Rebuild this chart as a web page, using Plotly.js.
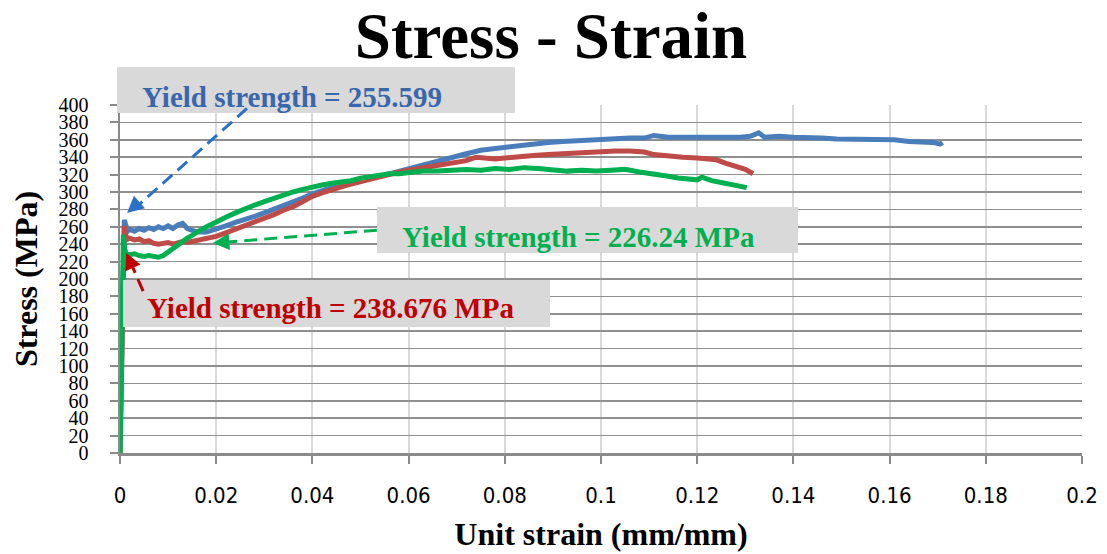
<!DOCTYPE html>
<html>
<head>
<meta charset="utf-8">
<script src="https://cdn.plot.ly/plotly-3.0.1.min.js"></script>
<style>html,body{margin:0;padding:0;background:#fff;}#chart{width:1107px;height:554px;}</style>
</head>
<body>
<div id="chart"></div>
<script>
// ---- data ----
const blueStrain = [0,0.0003,0.0005,0.0007,0.0009,0.0012,0.0016,0.002,0.003,0.004,0.005,0.006,0.007,0.008,0.009,0.010,0.011,0.012,0.013,0.014,0.016,0.018,0.020,0.022,0.024,0.026,0.028,0.030,0.032,0.034,0.036,0.038,0.040,0.042,0.044,0.046,0.048,0.050,0.052,0.054,0.056,0.058,0.060,0.062,0.065,0.068,0.070,0.072,0.075,0.078,0.080,0.083,0.086,0.089,0.092,0.095,0.098,0.100,0.103,0.106,0.109,0.111,0.114,0.117,0.120,0.123,0.126,0.129,0.131,0.1328,0.134,0.137,0.140,0.143,0.146,0.149,0.152,0.155,0.158,0.161,0.164,0.167,0.169,0.1705,0.171];
const blueStress = [0,90,180,240,268,262,255,257,255,258,256,259,257,260,258,261,258,262,264,258,254,254,257,261,265,268,272,276,280,284,289,293,298,302,305,308,311,313,316,318,321,324,326,329,334,338,341,344,348,350,352,354,356,357,358,359,359,360,361,362,362,365,363,363,362,363,363,363,364,368,363,364,363,363,362,361,361,360,360,360,358,358,357,355,357];

const redStrain = [0,0.0003,0.0005,0.0007,0.0009,0.0012,0.0016,0.002,0.003,0.004,0.005,0.006,0.007,0.008,0.009,0.010,0.011,0.012,0.013,0.014,0.015,0.016,0.018,0.020,0.022,0.024,0.026,0.028,0.030,0.032,0.034,0.036,0.038,0.040,0.042,0.044,0.046,0.048,0.050,0.052,0.054,0.056,0.058,0.060,0.062,0.065,0.068,0.070,0.072,0.074,0.076,0.078,0.080,0.083,0.086,0.089,0.092,0.095,0.098,0.100,0.103,0.106,0.109,0.111,0.114,0.117,0.120,0.122,0.124,0.126,0.128,0.130,0.1316];
const redStress = [0,90,180,240,261,250,246,247,245,246,243,244,241,240,241,242,240,242,243,242,243,245,246,249,253,257,261,265,269,274,279,283,289,295,299,303,306,309,312,315,318,320,323,325,327,330,333,335,336,340,339,338,339,341,342,343,344,345,346,346,347,347,346,343,341,340,339,338,337,333,330,326,321];

const greenStrain = [0,0.0002,0.0004,0.0005,0.0006,0.0007,0.0009,0.0012,0.002,0.003,0.004,0.005,0.006,0.007,0.008,0.009,0.010,0.011,0.012,0.013,0.014,0.015,0.016,0.018,0.020,0.022,0.024,0.026,0.028,0.030,0.032,0.034,0.036,0.038,0.040,0.042,0.044,0.046,0.048,0.050,0.052,0.054,0.056,0.058,0.060,0.063,0.066,0.069,0.072,0.075,0.078,0.081,0.084,0.087,0.090,0.093,0.096,0.099,0.102,0.105,0.108,0.111,0.114,0.116,0.118,0.120,0.121,0.123,0.125,0.127,0.129,0.1303];
const greenStress = [0,60,150,200,245,251,238,229,228,229,227,226,227,226,225,227,231,235,240,243,247,250,254,260,266,271,276,281,285,289,293,297,300,303,306,308,310,311,313,316,318,319,321,321,322,324,324,325,326,325,327,326,328,327,325,324,325,324,325,326,323,321,318,316,315,314,317,313,311,309,306,305];

const titleText = 'Stress - Strain';
const xTitle = 'Unit strain (mm/mm)';
const yTitle = 'Stress (MPa)';
const labels = ['Yield strength = 255.599', 'Yield strength = 226.24 MPa', 'Yield strength = 238.676 MPa'];

// ---- styling ----
const serif = 'Liberation Serif, Times New Roman, serif';
const cBlue = '#4a7ebb', cRed = '#be4b48', cGreen = '#00b050';

const traces = [
  {x: blueStrain, y: blueStress, mode: 'lines', line: {color: cBlue, width: 5}, name: 'Blue', hoverinfo: 'skip'},
  {x: redStrain, y: redStress, mode: 'lines', line: {color: cRed, width: 5}, name: 'Red', hoverinfo: 'skip'},
  {x: greenStrain, y: greenStress, mode: 'lines', line: {color: cGreen, width: 5}, name: 'Green', hoverinfo: 'skip'}
];

// pixel helpers for boxes (plot area: x 120..1082, y 105..453)
const PL = 120, PR = 1082, PT = 105, PB = 453;
const px = v => (v - PL) / (PR - PL);
const py = v => (PB - v) / (PB - PT);

function box(x0, y0, x1, y1) {
  return {type: 'rect', xref: 'paper', yref: 'paper', x0: px(x0), x1: px(x1), y0: py(y1), y1: py(y0),
          fillcolor: '#d9d9d9', line: {width: 0}, layer: 'above'};
}
function dashLine(x0, y0, x1, y1, color) {
  return {type: 'line', xref: 'x', yref: 'y', x0: x0, y0: y0, x1: x1, y1: y1,
          line: {color: color, width: 3, dash: '13px,7px'}, layer: 'above'};
}

const shapes = [
  box(117, 67, 515, 113),
  box(377, 207, 798, 253),
  box(123, 280, 550, 327),
  dashLine(0.0264, 396, 0.0016, 274, '#2a72c8'),
  dashLine(0.0534, 256, 0.0200, 241.5, cGreen),
  dashLine(0.0048, 186, 0.0015, 228, '#c00000')
];

function label(text, left, midY, color) {
  return {text: text, xref: 'paper', yref: 'paper', x: px(left), y: py(midY), xanchor: 'left', yanchor: 'middle',
          showarrow: false, font: {family: serif, size: 29, color: color, weight: 'bold'}};
}
function head(x, y, ax, ay, color) {
  return {text: '', x: x, y: y, xref: 'x', yref: 'y', ax: ax, ay: ay, showarrow: true,
          arrowhead: 2, arrowsize: 1.1, arrowwidth: 3, arrowcolor: color, standoff: 0};
}

const annotations = [
  label(labels[0], 140, 97, '#3a66ab'),
  label(labels[1], 400, 237, cGreen),
  label(labels[2], 145, 308, '#c00000'),
  head(0.00146, 276, 10.5, -9.2, '#2a72c8'),
  head(0.0193, 241.4, 14, -1.1, cGreen),
  head(0.0013, 230, 5.7, 12.8, '#c00000')
];

const layout = {
  width: 1107, height: 554,
  margin: {l: 120, r: 25, t: 105, b: 101},
  paper_bgcolor: '#ffffff', plot_bgcolor: '#ffffff',
  showlegend: false,
  title: {text: titleText, xref: 'container', yref: 'container', x: 551/1107, xanchor: 'center',
          y: 1 - 35/554, yanchor: 'middle',
          font: {family: serif, size: 65, color: '#000', weight: 'bold'}},
  xaxis: {
    range: [0, 0.2], tick0: 0, dtick: 0.02, autorange: false,
    showline: true, linecolor: '#8a8a8a', linewidth: 2.5,
    ticks: 'outside', ticklen: 8, tickwidth: 2, tickcolor: '#8a8a8a',
    showgrid: true, gridcolor: '#d9d9d9', gridwidth: 2, zeroline: false,
    tickfont: {family: 'Liberation Sans Narrow, DejaVu Sans Condensed, Arial Narrow, sans-serif', size: 22, color: '#000'},
    ticklabelstandoff: 13,
    title: {text: xTitle, font: {family: serif, size: 32, color: '#000', weight: 'bold'}, standoff: 16},
    automargin: false
  },
  yaxis: {
    range: [0, 400], tick0: 0, dtick: 20, autorange: false,
    showline: true, linecolor: '#8a8a8a', linewidth: 2.5,
    ticks: 'outside', ticklen: 8, tickwidth: 2, tickcolor: '#8a8a8a',
    showgrid: true, gridcolor: '#8f8f8f', gridwidth: 1.5, zeroline: false,
    tickfont: {family: serif, size: 20, color: '#000'},
    ticklabelstandoff: 17,
    title: {text: yTitle, font: {family: serif, size: 32, color: '#000', weight: 'bold'}, standoff: 12},
    automargin: false
  },
  shapes: shapes,
  annotations: annotations
};

Plotly.newPlot('chart', traces, layout, {staticPlot: true, displayModeBar: false});
</script>
</body>
</html>
